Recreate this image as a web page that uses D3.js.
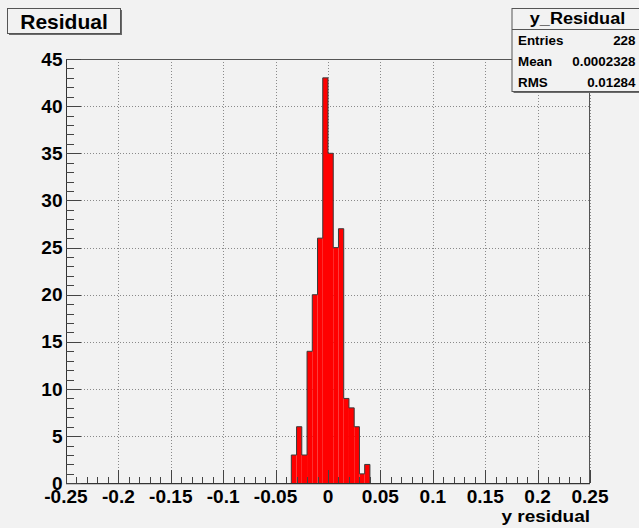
<!DOCTYPE html>
<html>
<head>
<meta charset="utf-8">
<script src="https://cdn.jsdelivr.net/npm/d3@7"></script>
<style>
  html, body { margin: 0; padding: 0; background: #f2f2f2; }
  svg { display: block; }
  text { font-family: "Liberation Sans", Arial, Helvetica, sans-serif; font-weight: bold; fill: #000; }
</style>
</head>
<body>
<script>
// Histogram of y residuals: lower bin edges and counts per bin (bin width 0.005)
const binLow = [-0.035, -0.030, -0.025, -0.020, -0.015, -0.010, -0.005, 0.000,
                0.005, 0.010, 0.015, 0.020, 0.025, 0.030, 0.035];
const counts = [3, 6, 3, 14, 20, 26, 43, 35, 25, 27, 9, 8, 6, 1, 2];
const binWidth = 0.005;

// Axis ticks
const xTicks = [-0.25, -0.2, -0.15, -0.1, -0.05, 0, 0.05, 0.1, 0.15, 0.2, 0.25];
const xTickLabels = ["-0.25", "-0.2", "-0.15", "-0.1", "-0.05", "0", "0.05", "0.1", "0.15", "0.2", "0.25"];
const yTicks = [0, 5, 10, 15, 20, 25, 30, 35, 40, 45];
const yTickLabels = ["0", "5", "10", "15", "20", "25", "30", "35", "40", "45"];

// Statistics box
const histTitle = "Residual";
const statsTitle = "y_Residual";
const statNames = ["Entries", "Mean", "RMS"];
const statValues = ["228", "0.0002328", "0.01284"];
const xAxisTitle = "y residual";

const W = 639, H = 528;
const frame = { left: 66, right: 590, top: 59, bottom: 483.3 };

const svg = d3.select("body").append("svg").attr("width", W).attr("height", H);
svg.append("rect").attr("width", W).attr("height", H).attr("fill", "#f2f2f2");

const x = d3.scaleLinear().domain([-0.25, 0.25]).range([frame.left, frame.right]);
const y = d3.scaleLinear().domain([0, 45]).range([frame.bottom, frame.top]);

// text helper with optional horizontal stretch
function label(g, str, px, py, size, anchor, sx) {
  return g.append("text")
    .attr("transform", `translate(${px},${py}) scale(${sx || 1},1)`)
    .attr("text-anchor", anchor)
    .style("font-size", size + "px")
    .text(str);
}

// frame fill
svg.append("rect")
  .attr("x", frame.left).attr("y", frame.top)
  .attr("width", frame.right - frame.left).attr("height", frame.bottom - frame.top)
  .attr("fill", "#f2f2f2");

// dotted grid
const grid = svg.append("g").attr("stroke", "#8a8a8a").attr("stroke-width", 1)
  .attr("stroke-dasharray", "1,2").attr("shape-rendering", "crispEdges");
xTicks.forEach(t => grid.append("line")
  .attr("x1", Math.round(x(t)) + 0.5).attr("x2", Math.round(x(t)) + 0.5)
  .attr("y1", frame.top).attr("y2", frame.bottom));
yTicks.forEach(t => grid.append("line")
  .attr("x1", frame.left).attr("x2", frame.right)
  .attr("y1", Math.round(y(t)) + 0.5).attr("y2", Math.round(y(t)) + 0.5));

// histogram bars
const bins = binLow.map((lo, i) => ({ lo, hi: lo + binWidth, n: counts[i] }));
svg.append("g").selectAll("rect").data(bins).join("rect")
  .attr("x", d => x(d.lo))
  .attr("width", d => x(d.hi) - x(d.lo))
  .attr("y", d => y(d.n))
  .attr("height", d => y(0) - y(d.n))
  .attr("fill", "#ff0000");

// histogram outline as a step line
const pts = [[x(bins[0].lo), y(0)]];
bins.forEach(d => { pts.push([x(d.lo), y(d.n)]); pts.push([x(d.hi), y(d.n)]); });
pts.push([x(bins[bins.length - 1].hi), y(0)]);
svg.append("path")
  .attr("d", d3.line()(pts))
  .attr("fill", "none").attr("stroke", "#3a3a3a").attr("stroke-width", 1);

// frame border
svg.append("rect")
  .attr("x", frame.left + 0.5).attr("y", frame.top + 0.5)
  .attr("width", frame.right - frame.left - 1).attr("height", frame.bottom - frame.top)
  .attr("fill", "none").attr("stroke", "#555").attr("stroke-width", 1);

// axes with inward ticks
const ax = svg.append("g").attr("stroke", "#444").attr("stroke-width", 1).attr("shape-rendering", "crispEdges");
ax.append("line").attr("x1", frame.left).attr("x2", frame.right)
  .attr("y1", frame.bottom).attr("y2", frame.bottom).attr("stroke", "#333");
ax.append("line").attr("x1", frame.left + 0.5).attr("x2", frame.left + 0.5)
  .attr("y1", frame.top).attr("y2", frame.bottom).attr("stroke", "#333");

const xMinor = d3.range(-25, 26).map(k => k / 100);
xMinor.forEach(t => {
  const major = xTicks.some(m => Math.abs(m - t) < 1e-9);
  const px = Math.round(x(t)) + 0.5;
  ax.append("line").attr("x1", px).attr("x2", px)
    .attr("y1", frame.bottom).attr("y2", frame.bottom - (major ? 13 : 6));
});
const yMinor = d3.range(0, 46);
yMinor.forEach(t => {
  const major = yTicks.includes(t);
  const py = Math.round(y(t)) + 0.5;
  ax.append("line").attr("x1", frame.left).attr("x2", frame.left + (major ? 15 : 8))
    .attr("y1", py).attr("y2", py);
});

// tick labels
const labels = svg.append("g");
xTicks.forEach((t, i) => label(labels, xTickLabels[i], x(t), 503, 18, "middle", 1.06));
yTicks.forEach((t, i) => label(labels, yTickLabels[i], 62.5, y(t) + 6.5, 18, "end", 1.06));

// axis title
label(labels, xAxisTitle, 590, 522, 16.5, "end", 1.15);

// title box with shadow
function shadowBox(bx, by, bw, bh) {
  svg.append("rect").attr("x", bx + 2).attr("y", by + 2).attr("width", bw).attr("height", bh)
    .attr("fill", "#6a6a6a");
  svg.append("rect").attr("x", bx + 0.5).attr("y", by + 0.5).attr("width", bw).attr("height", bh)
    .attr("fill", "#f2f2f2").attr("stroke", "#555").attr("stroke-width", 1);
}
shadowBox(7, 8, 113, 25);
label(svg, histTitle, 64, 28.5, 21, "middle", 1);

// statistics box
shadowBox(511.5, 8, 140, 83);
svg.append("line").attr("x1", 512).attr("x2", 639).attr("y1", 29.5).attr("y2", 29.5)
  .attr("stroke", "#555").attr("stroke-width", 1);
label(svg, statsTitle, 577.5, 23.5, 16, "middle", 1.13);
statNames.forEach((s, i) => {
  const by = 44.5 + i * 21;
  label(svg, s, 518, by, 13, "start", 1.03);
  label(svg, statValues[i], 635.5, by, 13, "end", 1.03);
});
</script>
</body>
</html>
